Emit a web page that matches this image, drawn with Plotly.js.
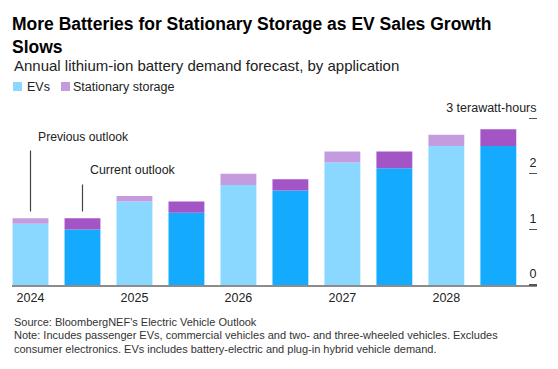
<!DOCTYPE html>
<html>
<head>
<meta charset="utf-8">
<script src="https://cdn.plot.ly/plotly-3.0.1.min.js"></script>
<style>html,body{margin:0;padding:0;background:#fff;}#chart{width:558px;height:369px;}</style>
</head>
<body>
<div id="chart"></div>
<script>
// ---- data ----
var years = ['2024', '2025', '2026', '2027', '2028'];
var prevEV = [1.1, 1.5, 1.8, 2.2, 2.5];
var prevStorage = [0.1, 0.1, 0.2, 0.2, 0.2];
var currEV = [1.0, 1.3, 1.7, 2.1, 2.5];
var currStorage = [0.2, 0.2, 0.2, 0.3, 0.3];
var yTickVals = [0, 1, 2, 3];
var yTickText = ['0', '1', '2', '3 terawatt-hours'];

// ---- layout helpers (pixel -> paper) ----
var W = 558, H = 369, M = {l: 12, r: 21, t: 95, b: 84};
var PW = W - M.l - M.r, PH = H - M.t - M.b;
var PX_PER_UNIT = 55.625;
function px(x) { return (x - M.l) / PW; }
function py(y) { return (H - M.b - y) / PH; }

var FONT = '"Liberation Sans", Arial, Helvetica, sans-serif';
var C = {prevEV: '#8ad8ff', prevSt: '#c59bdf', currEV: '#14abff', currSt: '#a355c5'};

var traces = [
  {type: 'bar', name: 'EVs (previous outlook)', x: years, y: prevEV, offsetgroup: 'a',
   marker: {color: C.prevEV, line: {width: 0}}, showlegend: false},
  {type: 'bar', name: 'Stationary storage (previous outlook)', x: years, y: prevStorage, base: prevEV, offsetgroup: 'a',
   marker: {color: C.prevSt, line: {width: 0}}, showlegend: false},
  {type: 'bar', name: 'EVs (current outlook)', x: years, y: currEV, offsetgroup: 'b',
   marker: {color: C.currEV, line: {width: 0}}, showlegend: false},
  {type: 'bar', name: 'Stationary storage (current outlook)', x: years, y: currStorage, base: currEV, offsetgroup: 'b',
   marker: {color: C.currSt, line: {width: 0}}, showlegend: false}
];

var annotations = [
  {xref: 'paper', yref: 'paper', x: px(11.5), y: py(65.5), xanchor: 'left', yanchor: 'middle', showarrow: false,
   text: 'Annual lithium-ion battery demand forecast, by application', font: {family: FONT, size: 15, color: '#222'}},
  {xref: 'paper', yref: 'paper', x: px(25), y: py(86.5), xanchor: 'left', yanchor: 'middle', showarrow: false,
   text: 'EVs', font: {family: FONT, size: 12.5, color: '#222'}},
  {xref: 'paper', yref: 'paper', x: px(70.5), y: py(86.5), xanchor: 'left', yanchor: 'middle', showarrow: false,
   text: 'Stationary storage', font: {family: FONT, size: 12.5, color: '#222'}},
  {xref: 'paper', yref: 'paper', x: px(36), y: py(136.5), xanchor: 'left', yanchor: 'middle', showarrow: false,
   text: 'Previous outlook', font: {family: FONT, size: 12.2, color: '#222'}},
  {xref: 'paper', yref: 'paper', x: px(87.5), y: py(170), xanchor: 'left', yanchor: 'middle', showarrow: false,
   text: 'Current outlook', font: {family: FONT, size: 12.4, color: '#222'}},
  {xref: 'paper', yref: 'paper', x: px(11.5), y: py(322.3), xanchor: 'left', yanchor: 'middle', showarrow: false,
   text: "Source: BloombergNEF's Electric Vehicle Outlook", font: {family: FONT, size: 11, color: '#333'}},
  {xref: 'paper', yref: 'paper', x: px(11.5), y: py(335.3), xanchor: 'left', yanchor: 'middle', showarrow: false,
   text: 'Note: Incudes passenger EVs, commercial vehicles and two- and three-wheeled vehicles. Excludes', font: {family: FONT, size: 11, color: '#333'}},
  {xref: 'paper', yref: 'paper', x: px(11.5), y: py(348.5), xanchor: 'left', yanchor: 'middle', showarrow: false,
   text: 'consumer electronics. EVs includes battery-electric and plug-in hybrid vehicle demand.', font: {family: FONT, size: 11, color: '#333'}}
];

var shapes = [
  {type: 'rect', xref: 'paper', yref: 'paper', x0: px(13), x1: px(22), y0: py(91), y1: py(82), fillcolor: C.prevEV, line: {width: 0}},
  {type: 'rect', xref: 'paper', yref: 'paper', x0: px(61), x1: px(70), y0: py(91), y1: py(82), fillcolor: C.prevSt, line: {width: 0}},
  {type: 'line', xref: 'paper', yref: 'paper', x0: px(30.5), x1: px(30.5), y0: py(150.5), y1: py(211.5), line: {color: '#444', width: 1.2}},
  {type: 'line', xref: 'paper', yref: 'paper', x0: px(82.5), x1: px(82.5), y0: py(184.5), y1: py(211.5), line: {color: '#444', width: 1.2}}
];

var layout = {
  width: W, height: H,
  margin: {l: M.l, r: M.r, t: M.t, b: M.b, pad: 0},
  paper_bgcolor: '#fff', plot_bgcolor: '#fff',
  font: {family: FONT, color: '#222'},
  title: {
    text: 'More Batteries for Stationary Storage as EV Sales Growth<br>Slows',
    font: {family: FONT, size: 17.5, weight: 'bold', color: '#000'},
    xref: 'container', yref: 'container', x: 12 / W, xanchor: 'left', y: 1 - 30 / H, yanchor: 'top'
  },
  barmode: 'group', bargap: 0, bargroupgap: 0.31,
  showlegend: false,
  xaxis: {
    type: 'category', range: [-0.428, 4.622], fixedrange: true,
    tickmode: 'array', tickvals: years, ticktext: years,
    showline: true, linecolor: '#8c8c8c', linewidth: 2,
    showgrid: false, zeroline: false, ticks: '',
    ticklabelshift: -26, ticklabelstandoff: 0,
    tickfont: {family: FONT, size: 12.5, color: '#222'}
  },
  yaxis: {
    side: 'left', anchor: 'free', position: 1, automargin: false,
    range: [0, PH / PX_PER_UNIT], fixedrange: true,
    tickmode: 'array', tickvals: yTickVals, ticktext: yTickText,
    ticks: 'outside', ticklen: 8, tickwidth: 1.2, tickcolor: '#555',
    ticklabelshift: -11, ticklabelstandoff: -10,
    showline: false, showgrid: false, zeroline: false,
    tickfont: {family: FONT, size: 12.5, color: '#222'}
  },
  annotations: annotations,
  shapes: shapes
};

Plotly.newPlot('chart', traces, layout, {displayModeBar: false, staticPlot: true});
</script>
</body>
</html>
